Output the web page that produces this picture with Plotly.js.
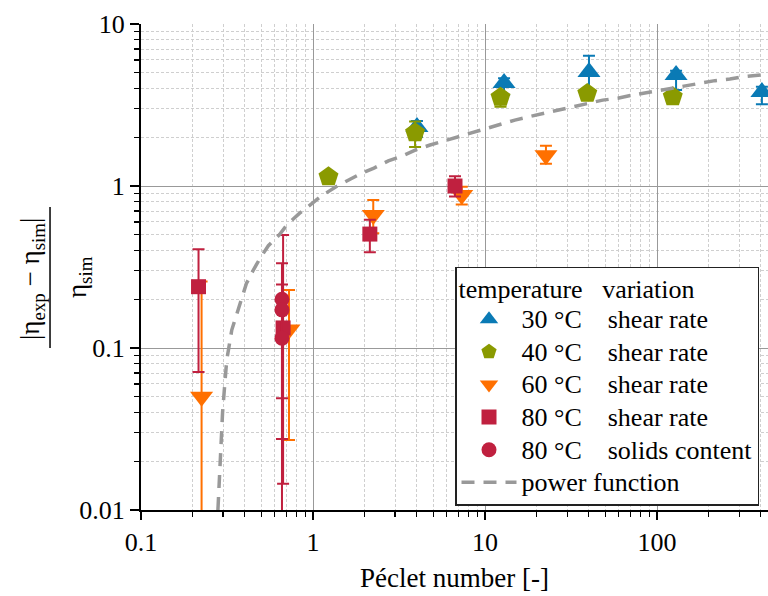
<!DOCTYPE html>
<html>
<head>
<meta charset="utf-8">
<script src="https://cdn.plot.ly/plotly-3.0.1.min.js"></script>
<style>html,body{margin:0;padding:0;background:#fff;}#chart{width:768px;height:596px;}</style>
</head>
<body>
<div id="chart"></div>
<script>
// ---- data ----
const x30 = [4.02, 12.9, 40.2, 129, 407];
const y30 = [2.31, 4.32, 5.05, 4.84, 3.80];
const p30 = [0.21, 0.3, 1.32, 0.3, 0.3];
const m30 = [0.30, 0.67, 1.30, 0.93, 0.6];

const x40 = [1.23, 3.92, 12.3, 39.3, 123.4];
const y40 = [1.14, 2.13, 3.53, 3.73, 3.56];
const p40 = [0.05, 0.37, 0.25, 0.15, 0.2];
const m40 = [0.05, 0.39, 0.44, 0.15, 0.3];

const x60 = [0.225, 0.725, 2.24, 7.32, 22.6];
const y60 = [0.050, 0.13, 0.662, 0.88, 1.55];
const p60 = [0.207, 0.098, 0.158, 0.11, 0.22];
const m60 = [0.049, 0.103, 0.152, 0.11, 0.18];

const x80s = [0.216, 0.67, 2.14, 6.69];
const y80s = [0.239, 0.133, 0.505, 1.0];
const p80s = [0.168, 0.366, 0.115, 0.15];
const m80s = [0.168, 0.1185, 0.115, 0.14];

const x80c = [0.66, 0.66, 0.66];
const y80c = [0.200, 0.172, 0.115];
const p80c = [0.133, 0.075, 0.085];
const m80c = [0.151, 0.1446, 0.112];

const xFit = [0.280, 0.284, 0.288, 0.292, 0.298, 0.307, 0.315, 0.337, 0.377, 0.41, 0.45, 0.49, 0.55, 0.637, 0.709, 0.833, 0.96, 1.12, 1.36, 1.6, 1.92, 2.26, 2.74, 3.28, 4.01, 4.79, 5.78, 7.0, 8.37, 10.1, 12.3, 14.9, 18.1, 21.8, 26.6, 32.3, 39.9, 48.3, 59.1, 71.1, 87.4, 106.5, 129, 156, 179, 217, 265, 316, 400];
const yFit = [0.010, 0.014, 0.019, 0.027, 0.040, 0.060, 0.084, 0.129, 0.189, 0.25, 0.303, 0.355, 0.428, 0.50, 0.58, 0.678, 0.763, 0.868, 0.99, 1.08, 1.2, 1.29, 1.43, 1.53, 1.68, 1.79, 1.90, 2.02, 2.13, 2.27, 2.41, 2.55, 2.68, 2.81, 2.95, 3.09, 3.24, 3.39, 3.48, 3.63, 3.77, 3.91, 4.05, 4.18, 4.31, 4.47, 4.57, 4.72, 4.84];

const names = ['30 °C\u00a0\u00a0\u00a0\u00a0shear rate', '40 °C\u00a0\u00a0\u00a0\u00a0shear rate',
               '60 °C\u00a0\u00a0\u00a0\u00a0shear rate', '80 °C\u00a0\u00a0\u00a0\u00a0shear rate',
               '80 °C\u00a0\u00a0\u00a0\u00a0solids content', 'power function'];
const legendTitle = 'temperature\u00a0\u00a0\u00a0variation';

const xTickVals = [0.1, 1, 10, 100];
const xTickText = ['0.1', '1', '10', '100'];
const yTickVals = [0.01, 0.1, 1, 10];
const yTickText = ['0.01', '0.1', '1', '10'];

// ---- styling ----
const FONT = 'Liberation Serif';
const cBlue = '#0a7ab5', cGreen = '#8a9a00', cOrange = '#ff7000', cRed = '#c0203f';
const big = s => '<span style="font-size:26px">' + s + '</span>';

function minorVals(lo, hi, maxV) {
  const v = [];
  for (let k = lo; k <= hi; k++) for (let d = 2; d <= 9; d++) {
    const val = d * Math.pow(10, k);
    if (val <= maxV) v.push(val);
  }
  return v;
}
const xMinor = minorVals(-1, 2, 440);
const yMinor = minorVals(-2, 0, 10);

function err(p, m, c) {
  return {type: 'data', symmetric: false, array: p, arrayminus: m, color: c, thickness: 2, width: 6};
}
function pts(x, y, p, m, name, sym, size, c) {
  return {x: x, y: y, name: big(name), type: 'scatter', mode: 'markers',
    marker: {symbol: sym, size: size, color: c, line: {width: 0}},
    error_y: err(p, m, c), hoverinfo: 'x+y'};
}

const traces = [
  pts(x30, y30, p30, m30, names[0], 'triangle-up', 20, cBlue),
  pts(x40, y40, p40, m40, names[1], 'pentagon', 21, cGreen),
  pts(x60, y60, p60, m60, names[2], 'triangle-down', 20, cOrange),
  pts(x80s, y80s, p80s, m80s, names[3], 'square', 15, cRed),
  pts(x80c, y80c, p80c, m80c, names[4], 'circle', 15, cRed),
  {x: xFit, y: yFit, name: big(names[5]), type: 'scatter', mode: 'lines',
   line: {color: '#999999', width: 3.5, dash: '13px,9px'}}
];

const xr = [-1, 2.645];
const gridMinor = {tickmode: 'array', showgrid: true, gridcolor: '#cfcfcf', griddash: '3px,2px', gridwidth: 1};

const layout = {
  width: 768, height: 596,
  margin: {l: 141, r: 0, t: 24, b: 86},
  paper_bgcolor: '#fff', plot_bgcolor: '#fff',
  font: {family: FONT, size: 26, color: '#000'},
  showlegend: true,
  xaxis: {
    type: 'log', range: xr, tickmode: 'array', tickvals: xTickVals, ticktext: xTickText,
    ticks: 'outside', ticklen: 8, tickwidth: 1.5, tickcolor: '#000',
    showline: true, linecolor: '#000', linewidth: 2, mirror: false,
    showgrid: true, gridcolor: '#999', gridwidth: 1, zeroline: false,
    tickfont: {family: FONT, size: 26, color: '#000'},
    minor: Object.assign({tickvals: xMinor, ticks: 'outside', ticklen: 5, tickwidth: 1.2, tickcolor: '#000'}, gridMinor),
    title: {text: 'Péclet number [-]', font: {family: FONT, size: 27, color: '#000'}, standoff: 12}
  },
  xaxis2: {
    type: 'log', range: xr, overlaying: 'x', side: 'top', anchor: 'y',
    tickmode: 'array', tickvals: xTickVals, showticklabels: false,
    ticks: 'inside', ticklen: 9, tickwidth: 1.5, tickcolor: '#000',
    showline: true, linecolor: '#000', linewidth: 2, showgrid: false, zeroline: false,
    minor: {tickmode: 'array', tickvals: xMinor, ticks: 'inside', ticklen: 5, tickwidth: 1.2, tickcolor: '#000', showgrid: false}
  },
  yaxis: {
    type: 'log', range: [-2, 1], tickmode: 'array', tickvals: yTickVals, ticktext: yTickText,
    ticks: 'outside', ticklen: 9, tickwidth: 1.5, tickcolor: '#000',
    showline: true, linecolor: '#000', linewidth: 2, mirror: false,
    showgrid: true, gridcolor: '#999', gridwidth: 1, zeroline: false,
    tickfont: {family: FONT, size: 26, color: '#000'},
    minor: Object.assign({tickvals: yMinor, ticks: 'outside', ticklen: 5, tickwidth: 1.2, tickcolor: '#000'}, gridMinor)
  },
  legend: {
    x: 0.5008, y: 0.5006, xanchor: 'left', yanchor: 'top',
    bgcolor: '#fff', bordercolor: '#222', borderwidth: 1.5,
    font: {family: FONT, size: 22.8, color: '#000'},
    title: {text: big(legendTitle), font: {family: FONT, size: 22.8, color: '#000'}},
    itemwidth: 55, traceorder: 'normal'
  },
  annotations: [
    {xref: 'paper', yref: 'paper', x: -0.1738, y: 0.4753, xanchor: 'center', yanchor: 'middle',
     textangle: -90, showarrow: false, text: '|η<sub>exp</sub> − η<sub>sim</sub>|',
     font: {family: FONT, size: 27, color: '#000'}},
    {xref: 'paper', yref: 'paper', x: -0.0989, y: 0.4794, xanchor: 'center', yanchor: 'middle',
     textangle: -90, showarrow: false, text: 'η<sub>sim</sub>',
     font: {family: FONT, size: 27, color: '#000'}}
  ],
  shapes: [
    {type: 'line', xref: 'paper', yref: 'paper', x0: -0.1451, x1: -0.1451, y0: 0.3333, y1: 0.6235,
     line: {color: '#000', width: 1.5}}
  ]
};

Plotly.newPlot('chart', traces, layout, {displayModeBar: false, staticPlot: true});
</script>
</body>
</html>
